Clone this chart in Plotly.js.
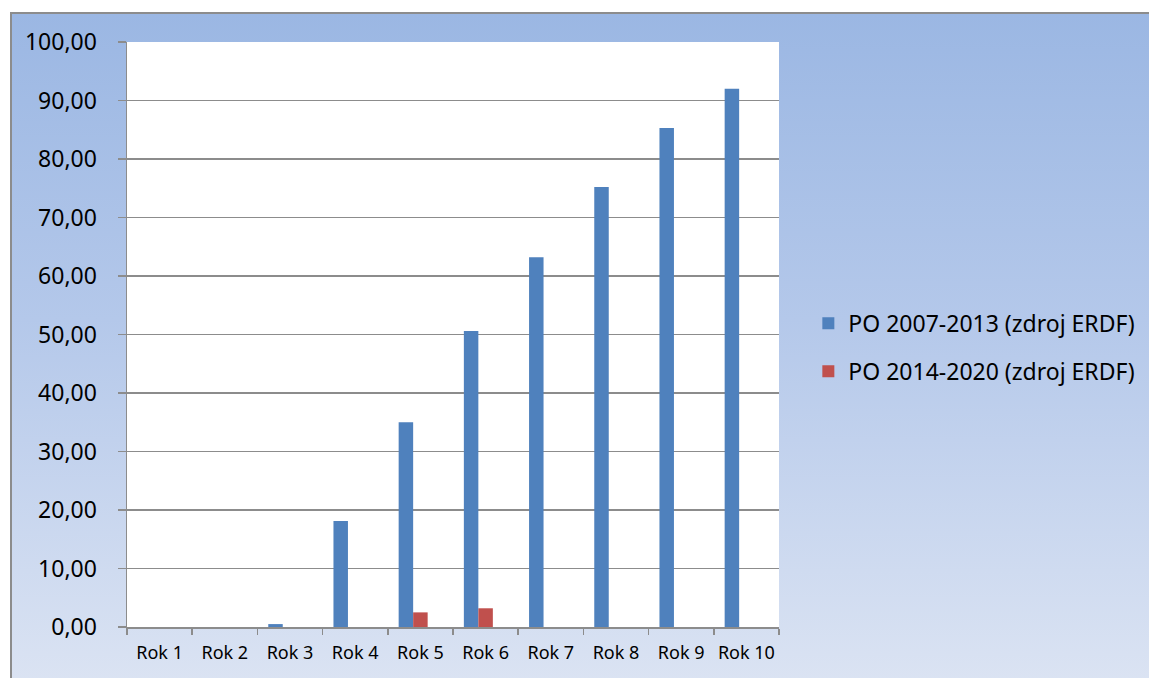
<!DOCTYPE html>
<html>
<head>
<meta charset="utf-8">
<script src="https://cdn.plot.ly/plotly-3.0.1.min.js"></script>
<style>
  html, body { margin: 0; padding: 0; background: #ffffff; width: 1149px; height: 678px; overflow: hidden; }
  #frame { position: absolute; left: 10px; top: 12px; width: 1150px; height: 680px;
    border-left: 2px solid #8c8c8c; border-top: 2px solid #8c8c8c; box-sizing: border-box;
    background: linear-gradient(to bottom, #9bb7e3 0%, #b4c8ea 45%, #dce4f3 100%); }
  #chart { position: absolute; left: 0; top: 0; width: 1149px; height: 678px; }
</style>
</head>
<body>
<div id="frame"></div>
<div id="chart"></div>
<script>
const categories = ["Rok 1", "Rok 2", "Rok 3", "Rok 4", "Rok 5", "Rok 6", "Rok 7", "Rok 8", "Rok 9", "Rok 10"];
const series1Name = "PO 2007-2013 (zdroj ERDF)";
const series1 = [0, 0, 0.5, 18.1, 35.0, 50.6, 63.2, 75.2, 85.3, 92.0];
const series2Name = "PO 2014-2020 (zdroj ERDF)";
const series2 = [0, 0, 0, 0, 2.5, 3.2, 0, 0, 0, 0];
const series3 = [null, null, null, null, null, null, null, null, null, null];
const yTicks = [0, 10, 20, 30, 40, 50, 60, 70, 80, 90, 100];

const FONT = "Noto Sans, Open Sans, sans-serif";

const data = [
  { type: "bar", name: series1Name, x: categories, y: series1,
    marker: { color: "#4f81bd", line: { width: 0 } }, legendgroup: "a" },
  { type: "bar", name: series2Name, x: categories, y: series2,
    marker: { color: "#c0504d", line: { width: 0 } }, legendgroup: "b" },
  { type: "bar", name: "", x: categories, y: series3, showlegend: false,
    marker: { color: "#9bbb59" }, hoverinfo: "skip" }
];

const layout = {
  width: 1149, height: 678,
  margin: { l: 127, r: 370, t: 42, b: 51, pad: 0, autoexpand: false },
  paper_bgcolor: "rgba(0,0,0,0)",
  plot_bgcolor: "#ffffff",
  separators: ", ",
  barmode: "group",
  bargap: 0.333,
  bargroupgap: 0,
  showlegend: true,
  font: { family: FONT, color: "#000000" },
  xaxis: {
    type: "category",
    tickson: "boundaries",
    tickangle: 0,
    automargin: false,
    ticks: "outside", ticklen: 6, tickwidth: 1.5, tickcolor: "#8c8c8c",
    ticklabelstandoff: 9,
    showline: true, linecolor: "#8c8c8c", linewidth: 1.5,
    showgrid: false,
    tickfont: { family: FONT, size: 18, color: "#000000" },
    fixedrange: true
  },
  yaxis: {
    range: [0, 100],
    tickvals: yTicks,
    tickformat: ".2f",
    automargin: false,
    ticks: "outside", ticklen: 8, tickwidth: 1.5, tickcolor: "#8c8c8c",
    ticklabelstandoff: 16,
    showline: true, linecolor: "#8c8c8c", linewidth: 1.5,
    showgrid: true, gridcolor: "#8c8c8c", gridwidth: 1.5,
    zeroline: false,
    tickfont: { family: FONT, size: 23, color: "#000000" },
    fixedrange: true
  },
  legend: {
    x: 1.045, xanchor: "left",
    y: 0.478, yanchor: "middle",
    traceorder: "grouped",
    tracegroupgap: 15,
    bgcolor: "rgba(0,0,0,0)",
    borderwidth: 0,
    font: { family: FONT, size: 23, color: "#000000" }
  }
};

Plotly.newPlot("chart", data, layout, { displayModeBar: false, staticPlot: true });
</script>
</body>
</html>
